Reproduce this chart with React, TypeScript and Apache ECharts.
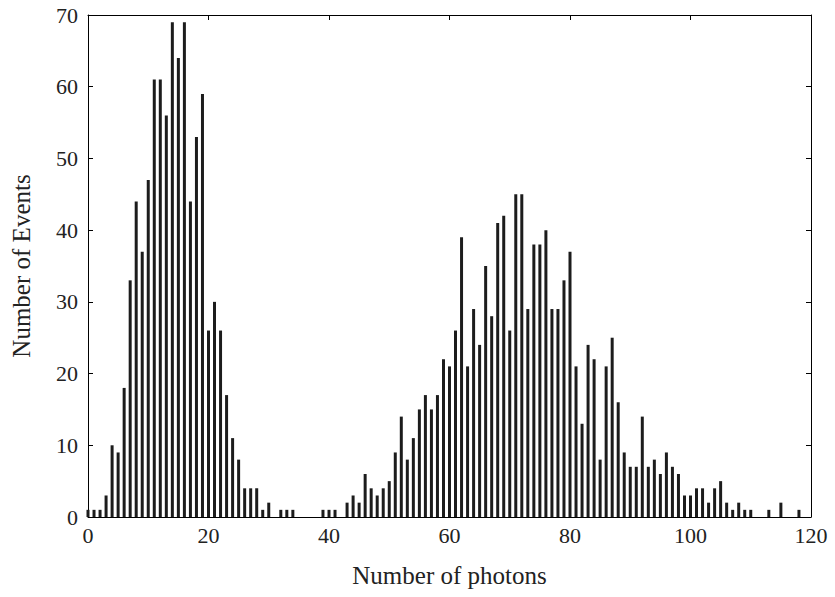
import React, { useEffect, useRef } from "react";
import * as echarts from "echarts";

const photons: number[] = [];
for (let i = 0; i <= 118; i++) photons.push(i);

const events: number[] = [
  1, 1, 1, 3, 10, 9, 18, 33, 44, 37,
  47, 61, 61, 56, 69, 64, 69, 44, 53, 59,
  26, 30, 26, 17, 11, 8, 4, 4, 4, 1,
  2, 0, 1, 1, 1, 0, 0, 0, 0, 1,
  1, 1, 0, 2, 3, 2, 6, 4, 3, 4,
  5, 9, 14, 8, 11, 15, 17, 15, 17, 22,
  21, 26, 39, 21, 29, 24, 35, 28, 41, 42,
  26, 45, 45, 29, 38, 38, 40, 29, 29, 33,
  37, 21, 13, 24, 22, 8, 21, 25, 16, 9,
  7, 7, 14, 7, 8, 6, 9, 7, 6, 3,
  3, 4, 4, 2, 4, 5, 2, 1, 2, 1,
  1, 0, 0, 1, 0, 2, 0, 0, 1,
];

const xTicks = { min: 0, max: 120, interval: 20 };
const yTicks = { min: 0, max: 70, interval: 10 };

export default function App() {
  const ref = useRef<HTMLDivElement>(null);
  useEffect(() => {
    if (!ref.current) return;
    const chart = echarts.init(ref.current, null, { renderer: "svg" });
    const font = "'Liberation Serif', 'Times New Roman', serif";
    const lineStyle = { color: "#000", width: 1 };
    chart.setOption({
      animation: false,
      backgroundColor: "#fff",
      grid: { left: 88, right: 24, top: 15, bottom: 80 },
      xAxis: [
        {
          type: "value",
          ...xTicks,
          position: "bottom",
          name: "Number of photons",
          nameLocation: "middle",
          nameGap: 46,
          nameTextStyle: { fontFamily: font, fontSize: 25, color: "#222" },
          axisLine: { show: true, onZero: false, lineStyle },
          axisTick: { show: true, inside: true, length: 5, lineStyle },
          axisLabel: { fontFamily: font, fontSize: 22, color: "#222", margin: 7 },
          splitLine: { show: false },
        },
        {
          type: "value",
          ...xTicks,
          position: "top",
          axisLine: { show: true, onZero: false, lineStyle },
          axisTick: { show: true, inside: true, length: 5, lineStyle },
          axisLabel: { show: false },
          splitLine: { show: false },
        },
      ],
      yAxis: [
        {
          type: "value",
          ...yTicks,
          position: "left",
          name: "Number of Events",
          nameLocation: "middle",
          nameGap: 54,
          nameTextStyle: { fontFamily: font, fontSize: 25, color: "#222" },
          axisLine: { show: true, onZero: false, lineStyle },
          axisTick: { show: true, inside: true, length: 5, lineStyle },
          axisLabel: { fontFamily: font, fontSize: 22, color: "#222", margin: 10 },
          splitLine: { show: false },
        },
        {
          type: "value",
          ...yTicks,
          position: "right",
          axisLine: { show: true, onZero: false, lineStyle },
          axisTick: { show: true, inside: true, length: 5, lineStyle },
          axisLabel: { show: false },
          splitLine: { show: false },
        },
      ],
      series: [
        {
          type: "bar",
          xAxisIndex: 0,
          yAxisIndex: 0,
          barWidth: 3,
          itemStyle: { color: "#1c1c1c" },
          data: photons.map((p, i) => [p, events[i]]),
        },
      ],
    });
    return () => chart.dispose();
  }, []);
  return <div ref={ref} style={{ width: 835, height: 597, position: "absolute", left: 0, top: 0 }} />;
}
